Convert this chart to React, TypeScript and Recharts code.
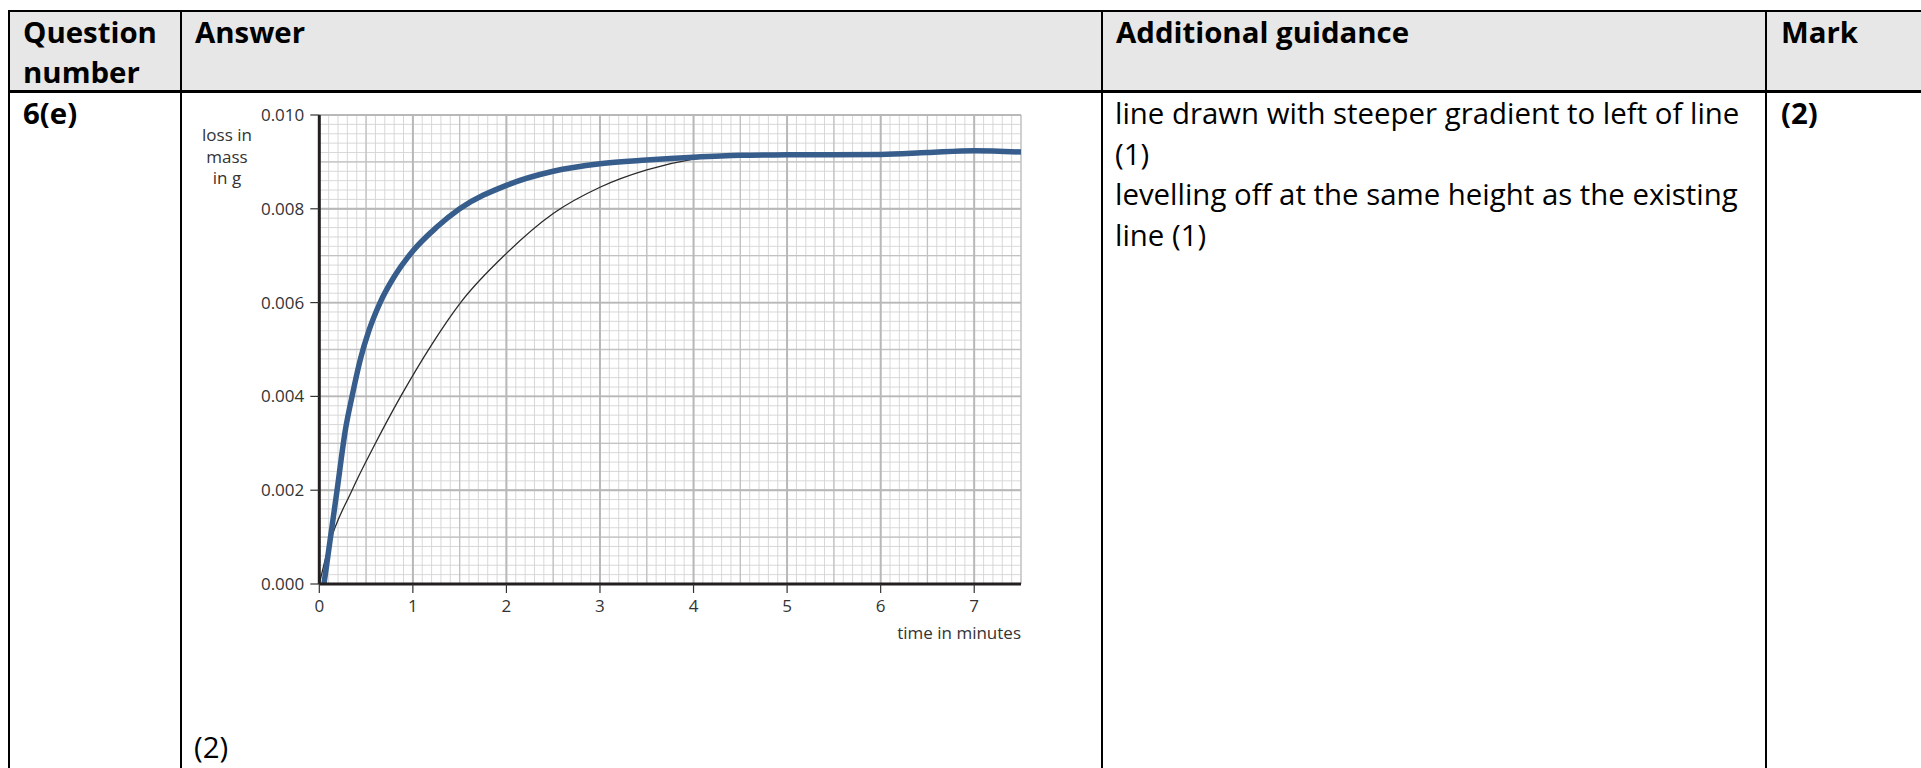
import React from 'react';
import { LineChart, Line, XAxis, YAxis, ReferenceLine } from 'recharts';

// ---------- data ----------
const timeTicks = [0, 1, 2, 3, 4, 5, 6, 7];
const massTicks = [0, 0.002, 0.004, 0.006, 0.008, 0.01];
const massTickLabels = ['0.000', '0.002', '0.004', '0.006', '0.008', '0.010'];

// existing (thin black) line
const originalTime = [0, 0.1, 0.35, 0.6, 0.87, 1.2, 1.51, 2.0, 2.5, 3.0, 3.5, 4.0, 4.5, 5.0, 5.5, 6.0];
const originalLoss = [0, 0.0008, 0.002, 0.003, 0.004, 0.0051, 0.006, 0.00705, 0.0079, 0.00846, 0.00883, 0.00906, 0.00915, 0.00918, 0.00919, 0.00919];

// answer (thick blue) line
const answerTime = [0.05, 0.19, 0.28, 0.35, 0.44, 0.53, 0.65, 0.8, 1.0, 1.25, 1.5, 2.0, 2.5, 3.0, 3.5, 4.0, 4.5, 5.0, 6.0, 6.5, 7.0, 7.5];
const answerLoss = [0, 0.002, 0.0033, 0.004, 0.0048, 0.0054, 0.006, 0.00655, 0.0071, 0.0076, 0.008, 0.0085, 0.0088, 0.00896, 0.00904, 0.0091, 0.00914, 0.00915, 0.00916, 0.0092, 0.00924, 0.00921];

// graph paper grid positions
const steps = (n: number, step: number) => Array.from({ length: n + 1 }, (_, i) => Math.round(i * step * 1e6) / 1e6);
const fineX = steps(75, 0.1);
const halfX = steps(15, 0.5);
const majorX = steps(7, 1);
const fineY = steps(50, 0.0002);
const halfY = steps(10, 0.001);
const majorY = steps(5, 0.002);

const yLabelLines = ['loss in', 'mass', 'in g'];
const xLabelText = 'time in minutes';

const headerCells = [
  { left: 23, lines: ['Question', 'number'] },
  { left: 195, lines: ['Answer'] },
  { left: 1116, lines: ['Additional guidance'] },
  { left: 1781, lines: ['Mark'] },
];
const guidanceLines = [
  'line drawn with steeper gradient to left of line',
  '(1)',
  'levelling off at the same height as the existing',
  'line (1)',
];

const originalData = originalTime.map((t, i) => ({ t, loss: originalLoss[i] }));
const answerData = answerTime.map((t, i) => ({ t, loss: answerLoss[i] }));

const FONT = '"Open Sans", "Noto Sans", sans-serif';
const TXT = '#333';
const FS = 29.4;

const YLabel = (props: any) => {
  const vb = props.viewBox || {};
  const cx = vb.x + vb.width - 92.3;
  const y0 = vb.y;
  return (
    <text x={cx} y={y0} textAnchor="middle" fill={TXT} fontSize={17} fontFamily={FONT}>
      {yLabelLines.map((l, i) => (
        <tspan key={i} x={cx} y={y0 + 26 + i * 21.5}>{l}</tspan>
      ))}
    </text>
  );
};

const XLabel = (props: any) => {
  const vb = props.viewBox || {};
  return (
    <text x={vb.x + vb.width} y={vb.y + 55} textAnchor="end" fill={TXT} fontSize={17} fontFamily={FONT}>
      {xLabelText}
    </text>
  );
};

const hLine = (left: number, top: number, width: number, h = 2) => (
  <div style={{ position: 'absolute', left, top, width, height: h, background: '#000' }} />
);
const vLine = (left: number, top: number, height: number, w = 2.2) => (
  <div style={{ position: 'absolute', left, top, width: w, height, background: '#000' }} />
);

const gridLines = (vals: number[], dir: 'x' | 'y', stroke: string, sw: number, key: string) =>
  vals.map((v) =>
    dir === 'x' ? (
      <ReferenceLine key={key + v} x={v} stroke={stroke} strokeWidth={sw} ifOverflow="extendDomain" />
    ) : (
      <ReferenceLine key={key + v} y={v} stroke={stroke} strokeWidth={sw} ifOverflow="extendDomain" />
    )
  );

export default function App() {
  return (
    <div style={{ position: 'absolute', left: 0, top: 0, width: 1921, height: 768, overflow: 'hidden', background: '#fff', fontFamily: FONT, color: '#000' }}>
      <div style={{ position: 'absolute', left: 9, top: 11, width: 1912, height: 80, background: '#e7e7e7' }} />
      {hLine(8, 10, 1913, 2.2)}
      {hLine(8, 90.3, 1913, 2.4)}
      {vLine(8, 10, 758)}
      {vLine(179.7, 10, 758)}
      {vLine(1100.6, 10, 758)}
      {vLine(1764.9, 10, 758)}

      {headerCells.map((c, i) => (
        <div key={i} style={{ position: 'absolute', left: c.left, top: 12, fontSize: FS, lineHeight: '40px', fontWeight: 700, whiteSpace: 'nowrap' }}>
          {c.lines.map((l, j) => <div key={j}>{l}</div>)}
        </div>
      ))}
      <div style={{ position: 'absolute', left: 23, top: 93, fontSize: FS, lineHeight: '40px', fontWeight: 700 }}>6(e)</div>
      <div style={{ position: 'absolute', left: 1781, top: 93, fontSize: FS, lineHeight: '40px', fontWeight: 700 }}>(2)</div>
      <div style={{ position: 'absolute', left: 1115, top: 93, fontSize: FS, lineHeight: '40.5px', whiteSpace: 'nowrap' }}>
        {guidanceLines.map((l, i) => <div key={i}>{l}</div>)}
      </div>
      <div style={{ position: 'absolute', left: 194, top: 728, fontSize: FS, lineHeight: '38px' }}>(2)</div>

      <div style={{ position: 'absolute', left: 190, top: 90 }}>
        <LineChart width={880} height={580} margin={{ top: 25, right: 49, bottom: 46, left: 29.3 }}>
          <XAxis
            type="number"
            dataKey="t"
            domain={[0, 7.5]}
            ticks={timeTicks}
            interval={0}
            allowDataOverflow
            height={40}
            tickSize={9}
            tickMargin={7}
            axisLine={{ stroke: '#231f20', strokeWidth: 3 }}
            tickLine={{ stroke: '#333', strokeWidth: 1.2 }}
            tick={{ fill: TXT, fontSize: 17, fontFamily: FONT }}
            label={{ content: XLabel }}
          />
          <YAxis
            type="number"
            domain={[0, 0.01]}
            ticks={massTicks}
            interval={0}
            allowDataOverflow
            width={100}
            tickSize={9}
            tickMargin={6}
            axisLine={{ stroke: '#231f20', strokeWidth: 3 }}
            tickLine={{ stroke: '#333', strokeWidth: 1.2 }}
            tick={{ fill: TXT, fontSize: 17, fontFamily: FONT }}
            tickFormatter={(v: number) => massTickLabels[massTicks.findIndex((m) => Math.abs(m - v) < 1e-9)] ?? String(v)}
            label={{ content: YLabel }}
          />
          {gridLines(fineX, 'x', '#d4d4d4', 0.9, 'fx')}
          {gridLines(fineY, 'y', '#d4d4d4', 0.9, 'fy')}
          {gridLines(halfX, 'x', '#c2c2c2', 1.3, 'hx')}
          {gridLines(halfY, 'y', '#c2c2c2', 1.3, 'hy')}
          {gridLines(majorX, 'x', '#b8b8b8', 1.9, 'mx')}
          {gridLines(majorY, 'y', '#b8b8b8', 1.9, 'my')}
          <Line data={originalData} dataKey="loss" type="monotone" stroke="#2b2b2b" strokeWidth={1.3} dot={false} isAnimationActive={false} />
          <Line data={answerData} dataKey="loss" type="monotone" stroke="#375d8c" strokeWidth={5.5} dot={false} isAnimationActive={false} />
        </LineChart>
      </div>
    </div>
  );
}
